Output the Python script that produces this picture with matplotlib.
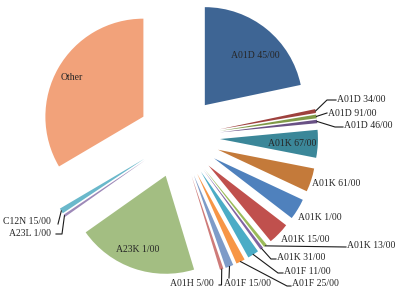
import numpy as np
import matplotlib.pyplot as plt

# slice names and shares (percent)
labels = ['A01D 45/00', 'A01D 34/00', 'A01D 91/00', 'A01D 46/00', 'A01K 67/00',
          'A01K 61/00', 'A01K 1/00', 'A01K 15/00', 'A01K 13/00', 'A01K 31/00',
          'A01F 11/00', 'A01F 25/00', 'A01F 15/00', 'A01H 5/00', 'A23K 1/00',
          'A23L 1/00', 'C12N 15/00', 'Other']
shares = [21.7, 0.64, 0.61, 0.56, 4.58,
          3.89, 3.47, 3.61, 0.56, 0.50,
          1.86, 1.47, 1.31, 0.58, 19.9,
          0.42, 0.89, 33.5]
colors = ['#3E6594', '#9E413E', '#7F9A48', '#695185', '#3B8799',
          '#C47A3A', '#4F81BD', '#C0504D', '#9BBB59', '#8064A2',
          '#4BACC6', '#F79646', '#7E9BC8', '#CE7B79', '#A3BE82',
          '#9D89B8', '#6AB8CB', '#F2A27A']

W, H = 409, 292

fig = plt.figure(figsize=(W / 100, H / 100), dpi=100)
ax = fig.add_axes([0, 0, 1, 1])
wedges, _ = ax.pie(shares, colors=colors, center=(179, H - 137), radius=98,
                   explode=[41] * len(shares), startangle=90, counterclock=False,
                   wedgeprops=dict(linewidth=0))
ax.set_xlim(0, W)
ax.set_ylim(0, H)
ax.set_aspect('equal')
ax.axis('off')

font = dict(family='Liberation Serif', size=7, color='#262626')

# labels inside / next to the wedges (pixel positions, y from top)
inside = {'A01D 45/00': (255, 55), 'A01K 67/00': (292, 144),
          'A23K 1/00': (138, 249), 'Other': (72, 77)}
for name, (x, y) in inside.items():
    ax.text(x, H - y, name, ha='center', va='center', **font)

plain = {'A01K 61/00': (312, 183), 'A01K 1/00': (298, 217), 'A01K 15/00': (281, 239)}
for name, (x, y) in plain.items():
    ax.text(x, H - y, name, ha='left', va='center', **font)

# labels with leader lines: text pos, alignment, line points after the wedge tip
leaders = {
    'A01D 34/00': (337, 99, 'left', [(327, 100), (336, 100)]),
    'A01D 91/00': (328, 113, 'left', [(327, 113)]),
    'A01D 46/00': (344, 126, 'left', [(335, 127), (343, 127)]),
    'A01K 13/00': (347, 245, 'left', [(346, 247)]),
    'A01K 31/00': (277, 257, 'left', [(271, 259), (276, 259)]),
    'A01F 11/00': (284, 271, 'left', [(278, 273), (283, 273)]),
    'A01F 25/00': (292, 284, 'left', [(287, 286), (291, 286)]),
    'A01F 15/00': (224, 284, 'left', [(229, 278)]),
    'A01H 5/00': (214, 284, 'right', [(221.5, 285), (219, 285)]),
    'C12N 15/00': (51, 221, 'right', [(58, 224)]),
    'A23L 1/00': (51, 233, 'right', [(62, 234), (56, 234)]),
}
for w, name in zip(wedges, labels):
    if name not in leaders:
        continue
    tx, ty, ha, pts = leaders[name]
    ang = np.deg2rad((w.theta1 + w.theta2) / 2)
    sx = w.center[0] + w.r * np.cos(ang)
    sy = w.center[1] + w.r * np.sin(ang)
    xs = [sx] + [p[0] for p in pts]
    ys = [sy] + [H - p[1] for p in pts]
    ax.plot(xs, ys, color='#1a1a1a', lw=0.8)
    ax.text(tx, H - ty, name, ha=ha, va='center', **font)

fig.savefig('out.png', dpi=100)
